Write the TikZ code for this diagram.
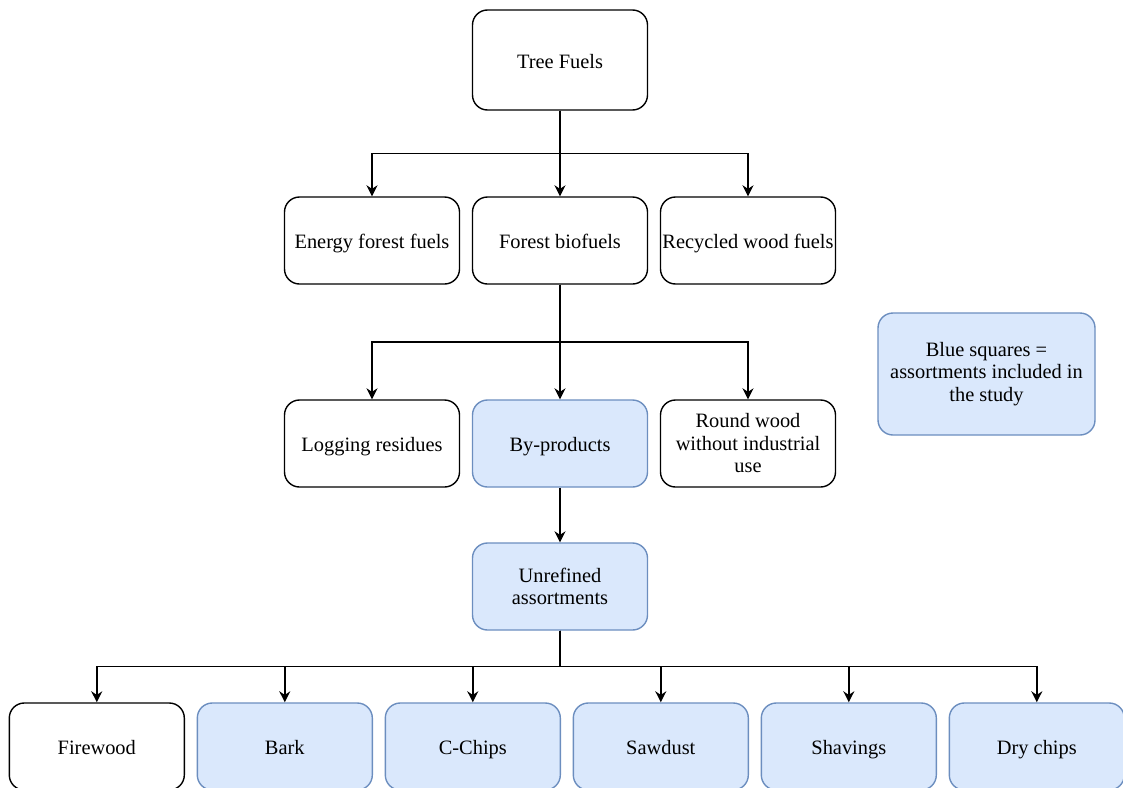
\documentclass[tikz,border=0pt]{standalone}
\usepackage{fontspec}
\setmainfont{Liberation Serif}
\usetikzlibrary{arrows.meta,calc}
\definecolor{boxblue}{HTML}{DAE8FC}
\definecolor{lineblue}{HTML}{6C8EBF}

\begin{document}
\begin{tikzpicture}
[
font=\fontsize{10.2}{11.25}\selectfont,
box/.style={draw=black, rounded corners=7.5pt, line width=0.7pt, minimum width=87.5pt, minimum height=43.5pt, align=center, inner xsep=0.5pt, inner ysep=1pt, text height=10.5pt, text depth=2.2pt},
bluebox/.style={box, draw=lineblue, fill=boxblue},
multi/.style={text height={}, text depth={}},
bottom/.style={xshift=3.4pt},
edge from parent/.style={draw, line width=0.75pt, -{Stealth[length=5.5pt,width=5.5pt]}},
edge from parent path={(\tikzparentnode.south) -- ($(\tikzparentnode.south)!.5!(\tikzparentnode.south |- \tikzchildnode.north)$) -| (\tikzchildnode.north)},
level 1/.style={level distance=90.25pt, sibling distance=94pt},
level 2/.style={level distance=101.5pt, sibling distance=94pt},
level 3/.style={level distance=71.5pt},
level 4/.style={level distance=80pt, sibling distance=94pt}
]
\useasboundingbox (0,0) rectangle (561.5pt,-393.5pt);
\clip (0,0) rectangle (561.5pt,-393.5pt);

\node[box, minimum height=50pt] (treefuels) at (280pt,-30pt) {Tree Fuels}
child {node[box] (energy) {Energy forest fuels}}
child {node[box] (forest) {Forest biofuels}
	child {node[box] (logging) {Logging residues}}
	child {node[bluebox] (byprod) {By-products}
		child {node[bluebox, multi] (unrefined) {Unrefined\\assortments}
			child {node[box, bottom] (firewood) {Firewood}}
			child {node[bluebox, bottom] (bark) {Bark}}
			child {node[bluebox, bottom] (cchips) {C-Chips}}
			child {node[bluebox, bottom] (sawdust) {Sawdust}}
			child {node[bluebox, bottom] (shavings) {Shavings}}
			child {node[bluebox, bottom] (drychips) {Dry chips}}
		}
	}
	child {node[box, multi] (roundwood) {Round wood\\without industrial\\use}}
}
child {node[box] (recycled) {Recycled wood fuels}};

% legend
\node[bluebox, multi, minimum width=108.5pt, minimum height=61pt] (legend) at (493.25pt,-187pt) {Blue squares =\\assortments included in\\the study};
\end{tikzpicture}
\end{document}
